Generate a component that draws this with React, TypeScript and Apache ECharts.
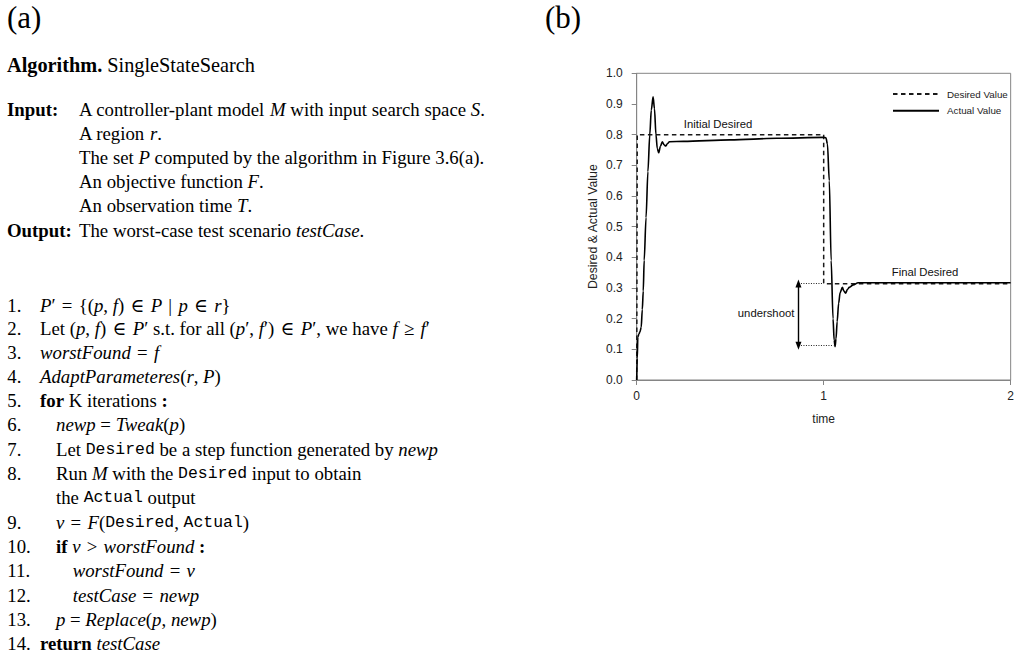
import { useEffect, useRef } from 'react';
import * as echarts from 'echarts';

// ---- Step response data (time in seconds, normalised value) ----
const desiredTime = [0, 0.003, 0.003, 1.0, 1.0, 2.0];
const desiredValue = [0, 0, 0.8, 0.8, 0.314, 0.314];

const actualTime = [
  0, 0.003, 0.006, 0.012, 0.018, 0.024, 0.03, 0.035, 0.04, 0.05, 0.06, 0.07, 0.078, 0.0877,
  0.095, 0.103, 0.11, 0.1175, 0.127, 0.137, 0.146, 0.155, 0.165, 0.175, 0.25, 0.5, 0.75, 1.0,
  1.012, 1.02, 1.03, 1.04, 1.05, 1.056, 1.061, 1.066, 1.072, 1.08, 1.088, 1.1, 1.108, 1.117,
  1.127, 1.137, 1.158, 1.184, 1.4, 2.0,
];
const actualValue = [
  0, 0.07, 0.14, 0.15, 0.158, 0.172, 0.23, 0.29, 0.39, 0.53, 0.68, 0.8, 0.88, 0.923,
  0.885, 0.8, 0.755, 0.741, 0.762, 0.777, 0.767, 0.763, 0.771, 0.777, 0.778, 0.783, 0.788, 0.791,
  0.79, 0.77, 0.65, 0.39, 0.2, 0.13, 0.109, 0.135, 0.19, 0.25, 0.285, 0.302, 0.29, 0.283,
  0.295, 0.302, 0.31, 0.317, 0.317, 0.317,
];

const seriesNames = ['Desired Value', 'Actual Value'];
const xTicks = [0, 1, 2];

// undershoot marker (data coordinates)
const undershootAt = 0.865;
const undershootTop = 0.315;
const undershootBottom = 0.112;
const topGuideEnd = 1.0;
const bottomGuideEnd = 1.053;

const noteTexts = ['Initial Desired', 'Final Desired', 'undershoot'];
const noteTime = [0.435, 1.542, 0.692];
const noteValue = [0.835, 0.352, 0.219];

// ---- Algorithm listing ----
type Seg = [string, string];

// math relation spacing (thick space either side)
const S = '\u2004';
const rel = (op: string) => `${S}${op}${S}`;

const algorithmTitle: Seg[] = [['b', 'Algorithm.'], ['n', ' SingleStateSearch']];

const inputLines: Seg[][] = [
  [['n', 'A controller-plant model '], ['i', 'M'], ['n', ' with input search space '], ['i', 'S'], ['n', '.']],
  [['n', 'A region '], ['i', 'r'], ['n', '.']],
  [['n', 'The set '], ['i', 'P'], ['n', ' computed by the algorithm in Figure 3.6(a).']],
  [['n', 'An objective function '], ['i', 'F'], ['n', '.']],
  [['n', 'An observation time '], ['i', 'T'], ['n', '.']],
];
const outputLine: Seg[] = [['n', 'The worst-case test scenario '], ['i', 'testCase'], ['n', '.']];

const stepNumbers = ['1.', '2.', '3.', '4.', '5.', '6.', '7.', '8.', '', '9.', '10.', '11.', '12.', '13.', '14.'];
const stepIndent = [0, 0, 0, 0, 0, 1, 1, 1, 1, 1, 1, 2, 2, 1, 0];
const stepLines: Seg[][] = [
  [['i', 'P'], ['n', '′' + rel('=') + '{('], ['i', 'p'], ['n', ', '], ['i', 'f'], ['n', ')' + rel('∈')], ['i', 'P'], ['n', rel('|')], ['i', 'p'], ['n', rel('∈')], ['i', 'r'], ['n', '}']],
  [['n', 'Let ('], ['i', 'p'], ['n', ', '], ['i', 'f'], ['n', ')' + rel('∈')], ['i', 'P'], ['n', '′ s.t. for all ('], ['i', 'p'], ['n', '′, '], ['i', 'f'], ['n', '′)' + rel('∈')], ['i', 'P'], ['n', '′, we have '], ['i', 'f'], ['n', rel('≥')], ['i', 'f'], ['n', '′']],
  [['i', 'worstFound'], ['n', rel('=')], ['i', 'f']],
  [['i', 'AdaptParameteres'], ['n', '('], ['i', 'r'], ['n', ', '], ['i', 'P'], ['n', ')']],
  [['b', 'for'], ['n', ' K iterations '], ['b', ':']],
  [['i', 'newp'], ['n', ' = '], ['i', 'Tweak'], ['n', '('], ['i', 'p'], ['n', ')']],
  [['n', 'Let '], ['t', 'Desired'], ['n', ' be a step function generated by '], ['i', 'newp']],
  [['n', 'Run '], ['i', 'M'], ['n', ' with the '], ['t', 'Desired'], ['n', ' input to obtain']],
  [['n', 'the '], ['t', 'Actual'], ['n', ' output']],
  [['i', 'v'], ['n', rel('=')], ['i', 'F'], ['n', '('], ['t', 'Desired'], ['n', ', '], ['t', 'Actual'], ['n', ')']],
  [['b', 'if'], ['n', ' '], ['i', 'v'], ['n', rel('>')], ['i', 'worstFound'], ['b', ' :']],
  [['i', 'worstFound'], ['n', rel('=')], ['i', 'v']],
  [['i', 'testCase'], ['n', rel('=')], ['i', 'newp']],
  [['i', 'p'], ['n', ' = '], ['i', 'Replace'], ['n', '('], ['i', 'p'], ['n', ', '], ['i', 'newp'], ['n', ')']],
  [['b', 'return'], ['n', ' '], ['i', 'testCase']],
];

const SERIF = "'Liberation Serif', 'Times New Roman', 'DejaVu Serif', serif";
const SANS = "'Liberation Sans', Arial, Helvetica, sans-serif";
const MONO = "'Liberation Mono', 'DejaVu Sans Mono', monospace";

function toRich(segs: Seg[]): string {
  return segs.map(([s, t]) => (s === 'n' ? t : `{${s}|${t}}`)).join('');
}

function richStyles(size: number) {
  return {
    i: { fontFamily: SERIF, fontSize: size, fontStyle: 'italic', fill: '#000' },
    b: { fontFamily: SERIF, fontSize: size, fontWeight: 'bold', fill: '#000' },
    t: { fontFamily: MONO, fontSize: size * 0.875, fill: '#000' },
  };
}

function textEl(x: number, y: number, segs: Seg[], size: number) {
  return {
    type: 'text',
    x,
    y,
    style: {
      text: toRich(segs),
      rich: richStyles(size),
      fontFamily: SERIF,
      fontSize: size,
      fill: '#000',
      align: 'left',
      verticalAlign: 'middle',
    },
  };
}

function buildGraphic() {
  const body = 18.8;
  const els: any[] = [];
  els.push({ type: 'text', x: 7, y: 17, style: { text: '(a)', fontFamily: SERIF, fontSize: 31, fill: '#000', verticalAlign: 'middle' } });
  els.push({ type: 'text', x: 545, y: 17, style: { text: '(b)', fontFamily: SERIF, fontSize: 31, fill: '#000', verticalAlign: 'middle' } });
  els.push(textEl(7, 65, algorithmTitle, 20.3));

  const inputY = [109.3, 133.4, 157.5, 181.6, 205.8];
  els.push(textEl(7, inputY[0], [['b', 'Input:']], body));
  inputLines.forEach((l, k) => els.push(textEl(79, inputY[k], l, body)));
  els.push(textEl(7, 230, [['b', 'Output:']], body));
  els.push(textEl(79, 230, outputLine, body));

  const indentX = [40, 56, 72.7];
  stepLines.forEach((l, k) => {
    const y = k === 0 ? 305 : k === 1 ? 328.5 : 352 + (k - 2) * 24.3;
    if (stepNumbers[k]) els.push(textEl(7.3, y, [['n', stepNumbers[k]]], body));
    els.push(textEl(indentX[stepIndent[k]], y, l, body));
  });
  return els;
}

export default function App() {
  const ref = useRef<HTMLDivElement>(null);

  useEffect(() => {
    const chart = echarts.init(ref.current!, null, { renderer: 'svg' });
    const axisGray = '#858585';
    const option: any = {
      animation: false,
      backgroundColor: '#ffffff',
      graphic: buildGraphic(),
      grid: {
        left: 636.7,
        top: 73.3,
        width: 380,
        height: 306.7,
        show: true,
        borderColor: axisGray,
        borderWidth: 1,
        containLabel: false,
      },
      legend: {
        data: seriesNames,
        orient: 'vertical',
        left: 892,
        top: 89,
        padding: 0,
        itemWidth: 46,
        itemHeight: 10,
        itemGap: 6.7,
        itemStyle: { opacity: 0, color: 'rgba(0,0,0,0)', borderWidth: 0 },
        textStyle: { fontFamily: SANS, fontSize: 9.8, color: '#222', padding: [0, 0, 0, 3] },
      },
      xAxis: {
        type: 'value',
        min: 0,
        max: 2,
        interval: 1,
        name: 'time',
        nameLocation: 'middle',
        nameGap: 33,
        nameTextStyle: { fontFamily: SANS, fontSize: 12, color: '#222' },
        axisLine: { show: true, lineStyle: { color: axisGray, width: 1 } },
        axisTick: { show: true, length: 5, lineStyle: { color: axisGray } },
        axisLabel: {
          margin: 10,
          fontFamily: SANS,
          fontSize: 12,
          color: '#222',
          formatter: (v: number) => (xTicks.includes(v) ? String(v) : ''),
        },
        splitLine: { show: false },
      },
      yAxis: {
        type: 'value',
        min: 0,
        max: 1,
        interval: 0.1,
        name: 'Desired & Actual Value',
        nameLocation: 'middle',
        nameRotate: 90,
        nameGap: 38,
        nameTextStyle: { fontFamily: SANS, fontSize: 12.3, color: '#222' },
        axisLine: { show: true, lineStyle: { color: axisGray, width: 1 } },
        axisTick: { show: true, length: 5, lineStyle: { color: axisGray } },
        axisLabel: { margin: 14, fontFamily: SANS, fontSize: 12, color: '#222', formatter: (v: number) => v.toFixed(1) },
        splitLine: { show: false },
      },
      series: [
        {
          name: seriesNames[0],
          type: 'line',
          showSymbol: false,
          symbol: 'none',
          data: desiredTime.map((t, i) => [t, desiredValue[i]]),
          lineStyle: { color: '#1a1a1a', width: 1.5, type: [4.5, 3.5] },
          itemStyle: { color: '#1a1a1a' },
          markLine: {
            silent: true,
            symbol: 'none',
            label: { show: false },
            data: [
              [
                { coord: [undershootAt, undershootTop], lineStyle: { type: [1, 1.5], width: 1, color: '#222' } },
                { coord: [topGuideEnd, undershootTop] },
              ],
              [
                { coord: [undershootAt, undershootBottom], lineStyle: { type: [1, 1.5], width: 1, color: '#222' } },
                { coord: [bottomGuideEnd, undershootBottom] },
              ],
              [
                { coord: [undershootAt, undershootTop], symbol: 'triangle', symbolSize: [6, 8], lineStyle: { type: 'solid', width: 1.4, color: '#000' } },
                { coord: [undershootAt, undershootBottom], symbol: 'triangle', symbolSize: [6, 8] },
              ],
            ],
          },
          z: 2,
        },
        {
          name: seriesNames[1],
          type: 'line',
          showSymbol: false,
          symbol: 'none',
          smooth: 0.3,
          smoothMonotone: 'x',
          data: actualTime.map((t, i) => [t, actualValue[i]]),
          lineStyle: { color: '#000', width: 1.6 },
          itemStyle: { color: '#000' },
          markPoint: {
            silent: true,
            symbol: 'rect',
            symbolSize: 0,
            data: noteTexts.map((txt, i) => ({
              coord: [noteTime[i], noteValue[i]],
              label: {
                show: true,
                position: 'inside',
                formatter: txt,
                fontFamily: SANS,
                fontSize: 11.3,
                color: '#111',
              },
            })),
          },
          z: 3,
        },
      ],
    };
    chart.setOption(option);
    return () => chart.dispose();
  }, []);

  return (
    <div
      ref={ref}
      style={{ position: 'fixed', left: 0, top: 0, width: 1017, height: 657, background: '#fff' }}
    />
  );
}
